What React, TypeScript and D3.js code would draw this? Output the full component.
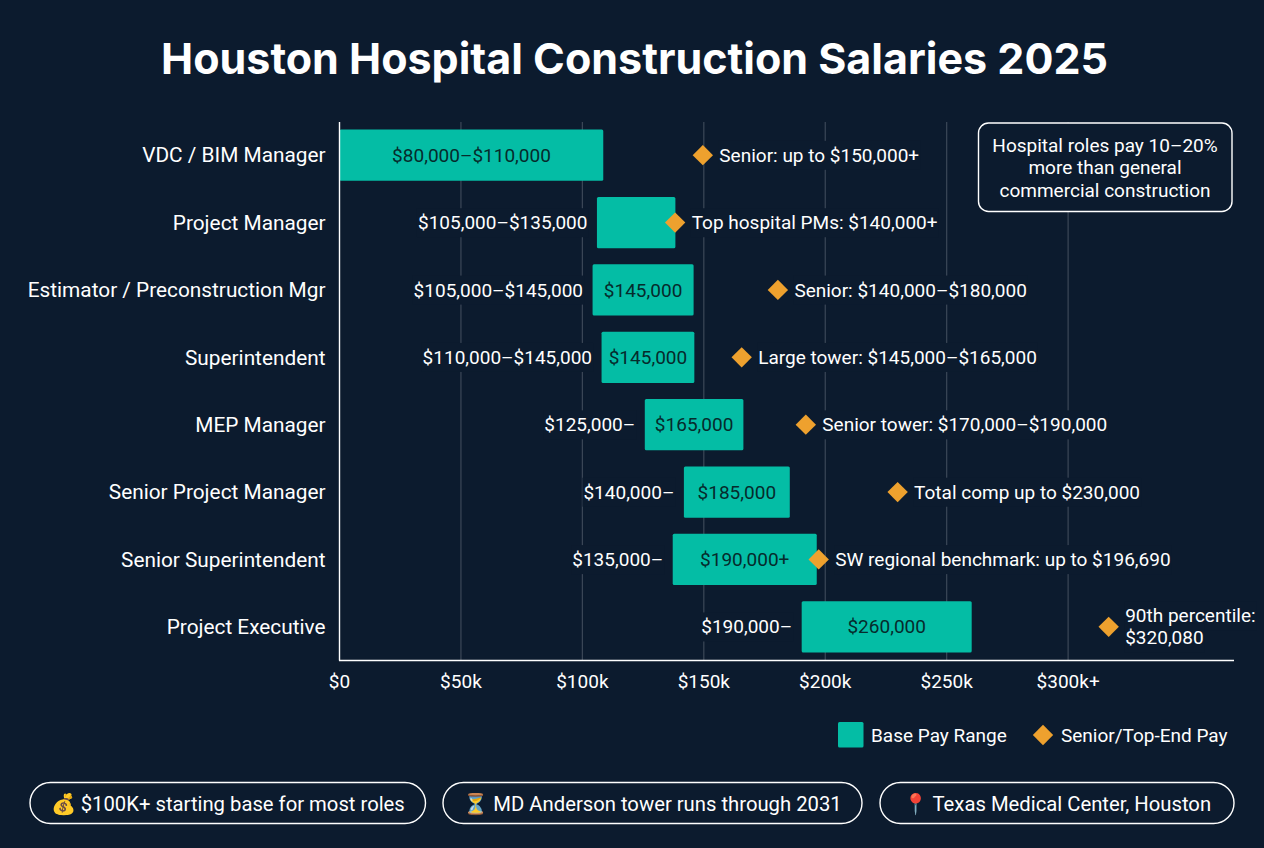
import { useEffect, useRef } from 'react';
import * as d3 from 'd3';

const roles = [
  'VDC / BIM Manager',
  'Project Manager',
  'Estimator / Preconstruction Mgr',
  'Superintendent',
  'MEP Manager',
  'Senior Project Manager',
  'Senior Superintendent',
  'Project Executive',
];
const baseLow = [0, 106, 104.2, 107.9, 125.7, 141.8, 137.2, 190.3];
const baseHigh = [108.6, 138.3, 145.8, 146.1, 166.3, 185.4, 196.5, 260.3];
const seniorPay = [149.6, 138.2, 180.5, 165.6, 192, 229.8, 197.3, 316.7];
const outsideLabels = ['', '$105,000–$135,000', '$105,000–$145,000', '$110,000–$145,000', '$125,000–', '$140,000–', '$135,000–', '$190,000–'];
const insideLabels = ['$80,000–$110,000', '', '$145,000', '$145,000', '$165,000', '$185,000', '$190,000+', '$260,000'];
const seniorLabels = [
  ['Senior: up to $150,000+'],
  ['Top hospital PMs: $140,000+'],
  ['Senior: $140,000–$180,000'],
  ['Large tower: $145,000–$165,000'],
  ['Senior tower: $170,000–$190,000'],
  ['Total comp up to $230,000'],
  ['SW regional benchmark: up to $196,690'],
  ['90th percentile:', '$320,080'],
];
const tickValues = [0, 50, 100, 150, 200, 250, 300];
const tickLabels = ['$0', '$50k', '$100k', '$150k', '$200k', '$250k', '$300k+'];
const calloutLines = ['Hospital roles pay 10–20%', 'more than general', 'commercial construction'];
const pills = [
  { text: '💰 $100K+ starting base for most roles', x0: 30, x1: 425.5 },
  { text: '⏳ MD Anderson tower runs through 2031', x0: 443, x1: 862 },
  { text: '📍 Texas Medical Center, Houston', x0: 880, x1: 1234 },
];

const BG = '#0c1b2e';
const TEAL = '#04bda5';
const ORANGE = '#eea12e';
const GRID = '#3c4858';
const FONT = 'Roboto, sans-serif';

export default function App() {
  const svgRef = useRef<SVGSVGElement>(null);

  useEffect(() => {
    const svg = d3.select(svgRef.current);
    svg.selectAll('*').remove();

    const x = d3.scaleLinear().domain([0, 368.3]).range([339.5, 1234]);
    const y = d3.scaleBand<string>().domain(roles).range([121.5, 660.5]).paddingInner(0.24).paddingOuter(0.12);
    const cy = (i: number) => y(roles[i])! + y.bandwidth() / 2;

    svg.append('rect').attr('width', 1264).attr('height', 848).attr('fill', BG);

    svg.append('text')
      .attr('x', 634.5).attr('y', 73.5)
      .attr('text-anchor', 'middle')
      .attr('fill', '#fff')
      .attr('font-family', 'Inter, sans-serif')
      .attr('font-weight', 700)
      .attr('font-size', 43)
      .text('Houston Hospital Construction Salaries 2025');

    // grid goes first so the label backings can cut it
    svg.append('g').selectAll('line')
      .data(tickValues.slice(1))
      .join('line')
      .attr('x1', (d) => x(d)).attr('x2', (d) => x(d))
      .attr('y1', 122).attr('y2', 660)
      .attr('stroke', GRID).attr('stroke-width', 1.2);

    const label = (
      parent: d3.Selection<any, any, any, any>,
      lx: number,
      ly: number,
      text: string,
      anchor: string,
      fill = '#fff',
      size = 19,
      backed = true,
    ) => {
      const t = parent.append('text')
        .attr('x', lx).attr('y', ly)
        .attr('dy', '0.35em')
        .attr('text-anchor', anchor)
        .attr('fill', fill)
        .attr('font-family', FONT)
        .attr('font-size', size)
        .text(text);
      if (backed) {
        const b = (t.node() as SVGTextElement).getBBox();
        parent.insert('rect', 'text')
          .attr('x', b.x - 1).attr('y', b.y - 3)
          .attr('width', b.width + 2).attr('height', b.height + 6)
          .attr('fill', BG);
      }
      return t;
    };

    const outside = svg.append('g');
    const notes = svg.append('g');

    svg.append('g').selectAll('rect')
      .data(roles)
      .join('rect')
      .attr('x', (_d, i) => x(baseLow[i]))
      .attr('y', (d) => y(d)!)
      .attr('width', (_d, i) => x(baseHigh[i]) - x(baseLow[i]))
      .attr('height', y.bandwidth())
      .attr('rx', 1.5)
      .attr('fill', TEAL);

    roles.forEach((role, i) => {
      label(svg, 325.5, cy(i), role, 'end', '#fff', 20.8, false);
      if (outsideLabels[i]) {
        label(outside, x(baseLow[i]) - 9.5, cy(i), outsideLabels[i], 'end');
      }
      if (insideLabels[i]) {
        const mid = i === 0 ? 471.5 : (x(baseLow[i]) + x(baseHigh[i])) / 2;
        label(svg, mid, cy(i), insideLabels[i], 'middle', '#062b2c', 19, false);
      }
      const lines = seniorLabels[i];
      lines.forEach((line, k) => {
        const offset = (k - (lines.length - 1) / 2) * 22;
        label(notes, x(seniorPay[i]) + 16.5, cy(i) + offset, line, 'start');
      });
    });

    // diamonds sit on top of the bars
    svg.append('g').selectAll('path')
      .data(seniorPay)
      .join('path')
      .attr('transform', (d, i) => `translate(${x(d)},${cy(i)}) rotate(45)`)
      .attr('d', 'M-7.2,-7.2H7.2V7.2H-7.2Z')
      .attr('fill', ORANGE);

    // axes
    svg.append('line')
      .attr('x1', 339.5).attr('x2', 339.5).attr('y1', 122).attr('y2', 660.5)
      .attr('stroke', '#fff').attr('stroke-width', 1.4);
    svg.append('line')
      .attr('x1', 339).attr('x2', 1234).attr('y1', 660.5).attr('y2', 660.5)
      .attr('stroke', '#fff').attr('stroke-width', 1.4);
    tickValues.forEach((v, i) => {
      label(svg, x(v), 681, tickLabels[i], 'middle', '#fff', 19, false);
    });

    // callout
    svg.append('rect')
      .attr('x', 978.5).attr('y', 123).attr('width', 253.5).attr('height', 88.5)
      .attr('rx', 10)
      .attr('fill', BG).attr('stroke', '#fff').attr('stroke-width', 1.4);
    calloutLines.forEach((line, k) => {
      label(svg, 1105, 145 + k * 22.7, line, 'middle', '#fff', 19, false);
    });

    // legend
    svg.append('rect')
      .attr('x', 838).attr('y', 722).attr('width', 25.5).attr('height', 25.5)
      .attr('rx', 1.5).attr('fill', TEAL);
    label(svg, 871, 735.5, 'Base Pay Range', 'start', '#fff', 19, false);
    svg.append('path')
      .attr('transform', 'translate(1043,735) rotate(45)')
      .attr('d', 'M-7.2,-7.2H7.2V7.2H-7.2Z')
      .attr('fill', ORANGE);
    label(svg, 1061, 735.5, 'Senior/Top-End Pay', 'start', '#fff', 19, false);

    // pills
    pills.forEach((p) => {
      svg.append('rect')
        .attr('x', p.x0).attr('y', 782.5)
        .attr('width', p.x1 - p.x0).attr('height', 41)
        .attr('rx', 20.5)
        .attr('fill', 'none').attr('stroke', '#fff').attr('stroke-width', 1.4);
      label(svg, (p.x0 + p.x1) / 2, 803.5, p.text, 'middle', '#fff', 20.25, false);
    });
  }, []);

  return <svg ref={svgRef} width={1264} height={848} viewBox="0 0 1264 848" style={{ position: 'fixed', left: 0, top: 0, display: 'block' }} />;
}
